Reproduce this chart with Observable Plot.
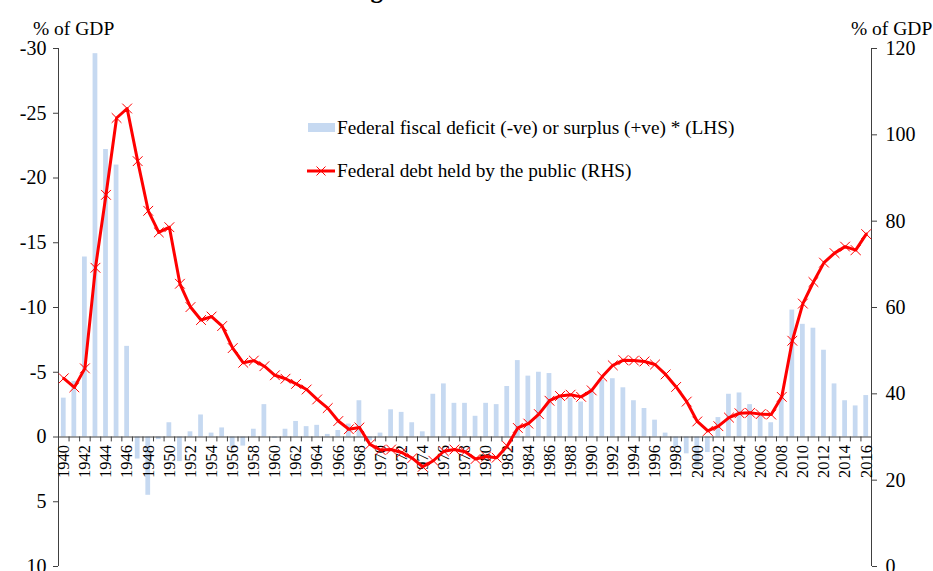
<!DOCTYPE html>
<html>
<head>
<meta charset="utf-8">
<script src="https://cdn.jsdelivr.net/npm/d3@7"></script>
<script src="https://cdn.jsdelivr.net/npm/@observablehq/plot@0.6"></script>
<style>
  body { margin: 0; background: #fff; font-family: "Liberation Serif", "Times New Roman", serif; }
  #wrap { position: relative; width: 933px; height: 571px; overflow: hidden; background: #fff; }
  #chart { position: absolute; left: 0; top: 0; }
  #title { position: absolute; left: 6px; top: -23px; font-weight: bold; font-size: 25px; line-height: 25px; white-space: nowrap; color: #000; }
  #overlay { position: absolute; left: 0; top: 0; }
</style>
</head>
<body>
<div id="wrap">
  <div id="chart"></div>
  <div id="title">Chart 1: Federal fiscal deficits surged after the outbreak of Global Financial Crisis</div>
  <svg id="overlay" width="933" height="571" font-family="Liberation Serif, Times New Roman, serif">
    <text x="33" y="35" font-size="19.5" fill="#000">% of GDP</text>
    <text x="851" y="35" font-size="19.5" fill="#000">% of GDP</text>
    <rect x="308" y="123" width="27" height="9" fill="#c6d9f1"></rect>
    <text x="337" y="134" font-size="19.3" fill="#000">Federal fiscal deficit (-ve) or surplus (+ve) * (LHS)</text>
    <line x1="307" y1="171" x2="335" y2="171" stroke="#ff0000" stroke-width="3"></line>
    <path d="M316.5,166.5L325.5,175.5M316.5,175.5L325.5,166.5" stroke="#ff0000" stroke-width="1" fill="none"></path>
    <text x="337" y="177" font-size="19.3" fill="#000">Federal debt held by the public (RHS)</text>
  </svg>
</div>
<script>
const years = [
  1940,1941,1942,1943,1944,1945,1946,1947,1948,1949,
  1950,1951,1952,1953,1954,1955,1956,1957,1958,1959,
  1960,1961,1962,1963,1964,1965,1966,1967,1968,1969,
  1970,1971,1972,1973,1974,1975,1976,1977,1978,1979,
  1980,1981,1982,1983,1984,1985,1986,1987,1988,1989,
  1990,1991,1992,1993,1994,1995,1996,1997,1998,1999,
  2000,2001,2002,2003,2004,2005,2006,2007,2008,2009,
  2010,2011,2012,2013,2014,2015,2016
];
// Federal fiscal deficit (-) or surplus (+), % of GDP (LHS)
const balance = [
  -3.0,-4.3,-13.9,-29.6,-22.2,-21.0,-7.0,1.7,4.5,0.2,
  -1.1,1.9,-0.4,-1.7,-0.3,-0.7,0.9,0.7,-0.6,-2.5,
  0.1,-0.6,-1.2,-0.8,-0.9,-0.2,-0.5,-1.0,-2.8,0.3,
  -0.3,-2.1,-1.9,-1.1,-0.4,-3.3,-4.1,-2.6,-2.6,-1.6,
  -2.6,-2.5,-3.9,-5.9,-4.7,-5.0,-4.9,-3.1,-3.0,-2.7,
  -3.7,-4.4,-4.5,-3.8,-2.8,-2.2,-1.3,-0.3,0.8,1.3,
  2.3,1.2,-1.5,-3.3,-3.4,-2.5,-1.8,-1.1,-3.1,-9.8,
  -8.7,-8.4,-6.7,-4.1,-2.8,-2.4,-3.2
];
// Federal debt held by the public, % of GDP (RHS)
const debt = [
  43.6,41.5,45.9,69.2,86.1,103.9,106.1,93.9,82.4,77.4,
  78.6,65.5,60.1,57.1,57.9,55.7,50.6,47.2,47.7,46.4,
  44.3,43.5,42.3,41.0,38.7,36.7,33.7,31.8,32.2,28.3,
  27.0,27.1,26.4,25.1,23.1,24.5,26.7,27.1,26.6,24.9,
  25.5,25.2,27.9,32.1,33.1,35.3,38.4,39.5,39.8,39.3,
  40.8,44.0,46.6,47.8,47.7,47.5,46.8,44.5,41.6,38.2,
  33.6,31.4,32.5,34.5,35.5,35.6,35.3,35.2,39.3,52.3,
  60.9,65.9,70.4,72.6,74.1,73.3,77.0
];
const leftTicks = [-30, -25, -20, -15, -10, -5, 0, 5, 10];
const rightTicks = [0, 20, 40, 60, 80, 100, 120];
const labelYears = years.filter(y => y % 2 === 0);

// Right axis (0..120) is mapped onto the left axis (10..-30)
const toLeft = r => 10 - r / 3;
const fromLeft = l => (10 - l) * 3;

const rows = years.map((y, i) => ({year: y, balance: balance[i], debt: debt[i]}));
const bounds = years.map(y => y - 0.5).concat([years[years.length - 1] + 0.5]);

const chart = Plot.plot({
  width: 933,
  height: 600,
  marginLeft: 58,
  marginRight: 62,
  marginTop: 48,
  marginBottom: 34,
  style: {fontFamily: "Liberation Serif, Times New Roman, serif", background: "transparent", color: "#000", overflow: "visible"},
  x: {type: "linear", domain: [1939.5, 2016.5], axis: null},
  y: {domain: [10, -30]},
  marks: [
    Plot.rectY(rows, {x1: d => d.year - 0.225, x2: d => d.year + 0.225, y1: () => 0, y2: "balance", fill: "#c6d9f1"}),
    Plot.ruleY([0], {stroke: "#404040", strokeWidth: 1}),
    Plot.ruleX(bounds, {x: d => d, y1: () => 0, y2: () => 0.38, stroke: "#404040", strokeWidth: 1}),
    Plot.ruleX([1939.5, 2016.5], {stroke: "#404040", strokeWidth: 1}),
    Plot.axisY({anchor: "left", ticks: leftTicks, tickSize: 5, tickPadding: 7, tickFormat: d => String(d), fontSize: 20, label: null, stroke: "#404040"}),
    Plot.axisY({anchor: "right", ticks: rightTicks.map(toLeft), tickSize: 5, tickPadding: 9, tickFormat: v => String(Math.round(fromLeft(v))), fontSize: 20, label: null, stroke: "#404040"}),
    Plot.text(labelYears, {x: d => d, y: () => 0, text: d => String(d), rotate: -90, textAnchor: "end", lineAnchor: "middle", dy: 8, fontSize: 16.5, fill: "#000"}),
    Plot.line(rows, {x: "year", y: d => toLeft(d.debt), stroke: "#ff0000", strokeWidth: 3}),
    Plot.dot(rows, {x: "year", y: d => toLeft(d.debt), symbol: "times", r: 4.5, stroke: "#ff0000", strokeWidth: 1})
  ]
});
document.getElementById("chart").appendChild(chart);
</script>
</body>
</html>
